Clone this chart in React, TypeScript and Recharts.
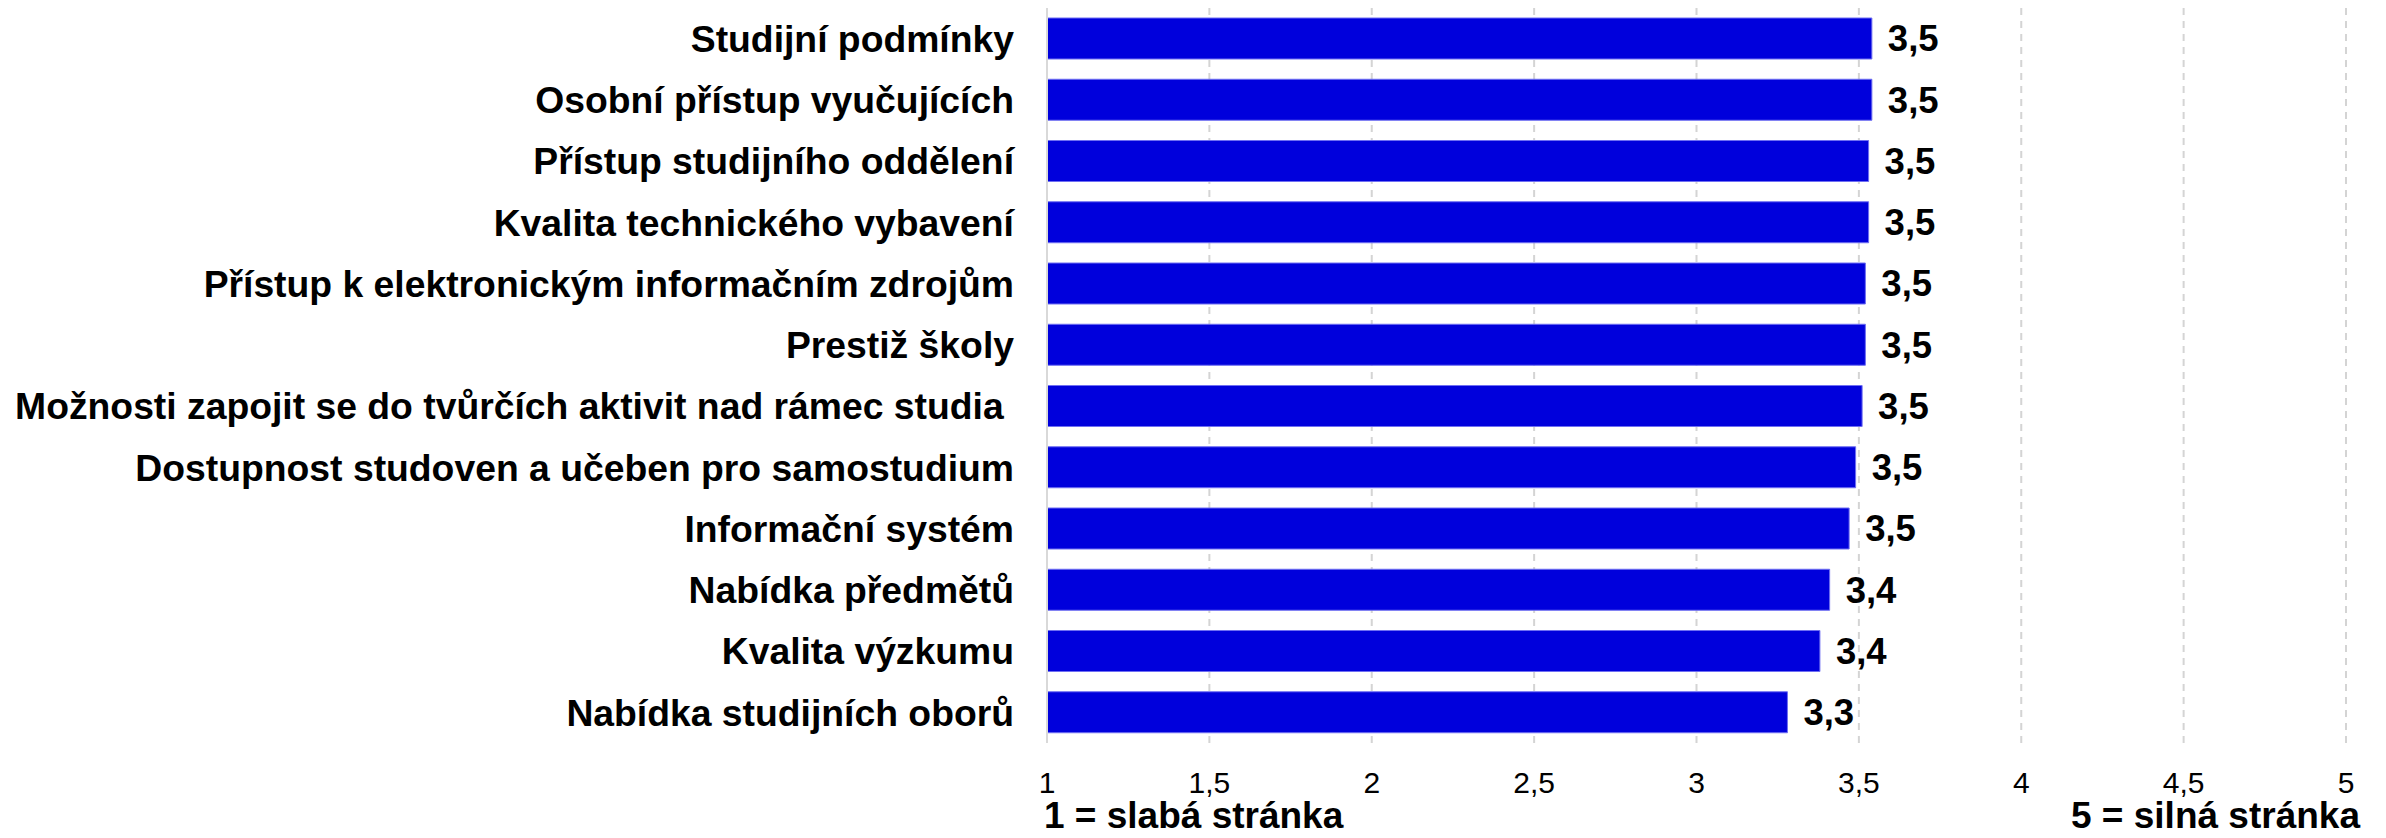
import { BarChart, Bar, XAxis, YAxis, CartesianGrid, LabelList } from 'recharts';

// Hodnocení silných a slabých stránek (1 = slabá, 5 = silná)
const categories = [
  'Studijní podmínky',
  'Osobní přístup vyučujících',
  'Přístup studijního oddělení',
  'Kvalita technického vybavení',
  'Přístup k elektronickým informačním zdrojům',
  'Prestiž školy',
  'Možnosti zapojit se do tvůrčích aktivit nad rámec studia\u00a0',
  'Dostupnost studoven a učeben pro samostudium',
  'Informační systém',
  'Nabídka předmětů',
  'Kvalita výzkumu',
  'Nabídka studijních oborů',
];

const scores = [3.54, 3.54, 3.53, 3.53, 3.52, 3.52, 3.51, 3.49, 3.47, 3.41, 3.38, 3.28];

const xTicks = [1, 1.5, 2, 2.5, 3, 3.5, 4, 4.5, 5];

const minLabel = '1 = slabá stránka';
const maxLabel = '5 = silná stránka';

const FONT = '"Liberation Sans", Arial, sans-serif';

const fmt = (v: number | string) => String(Number(v).toFixed(1)).replace('.', ',');
const fmtTick = (v: number) => String(v).replace('.', ',');

export default function App() {
  const data = categories.map((name, i) => ({ name, value: scores[i] }));

  return (
    <div style={{ position: 'relative', width: 2370, height: 822, fontFamily: FONT }}>
      <BarChart
        width={2370}
        height={822}
        data={data}
        layout="vertical"
        margin={{ top: 0, right: 32, bottom: 47, left: 0 }}
      >
        <CartesianGrid horizontal={false} stroke="#d4d4d4" strokeWidth={2} strokeDasharray="7 6" />
        <XAxis
          type="number"
          domain={[1, 5]}
          ticks={xTicks}
          allowDataOverflow
          tickFormatter={fmtTick}
          axisLine={false}
          tickLine={false}
          tickMargin={23}
          height={40}
          tick={{ fill: '#000', fontSize: 30, fontFamily: FONT }}
        />
        <YAxis
          type="category"
          dataKey="name"
          width={1039}
          axisLine={{ stroke: '#d9d9d9', strokeWidth: 2 }}
          tickLine={false}
          tickMargin={27}
          interval={0}
          tick={{ fill: '#000', fontSize: 37.3, fontWeight: 'bold', fontFamily: FONT }}
        />
        <Bar dataKey="value" fill="#0000dc" stroke="#6f6ff2" strokeWidth={1} barSize={41} isAnimationActive={false}>
          <LabelList
            dataKey="value"
            position="right"
            offset={16}
            formatter={fmt}
            style={{ fill: '#000', fontSize: 36.5, fontWeight: 'bold', fontFamily: FONT }}
          />
        </Bar>
      </BarChart>
      <div
        style={{
          position: 'absolute',
          left: 1036,
          top: 789,
          fontSize: 37,
          lineHeight: 1,
          fontWeight: 'bold',
          whiteSpace: 'nowrap',
        }}
      >
        {minLabel}
      </div>
      <div
        style={{
          position: 'absolute',
          right: 2370 - 2352,
          top: 789,
          fontSize: 37,
          lineHeight: 1,
          fontWeight: 'bold',
          whiteSpace: 'nowrap',
        }}
      >
        {maxLabel}
      </div>
    </div>
  );
}
